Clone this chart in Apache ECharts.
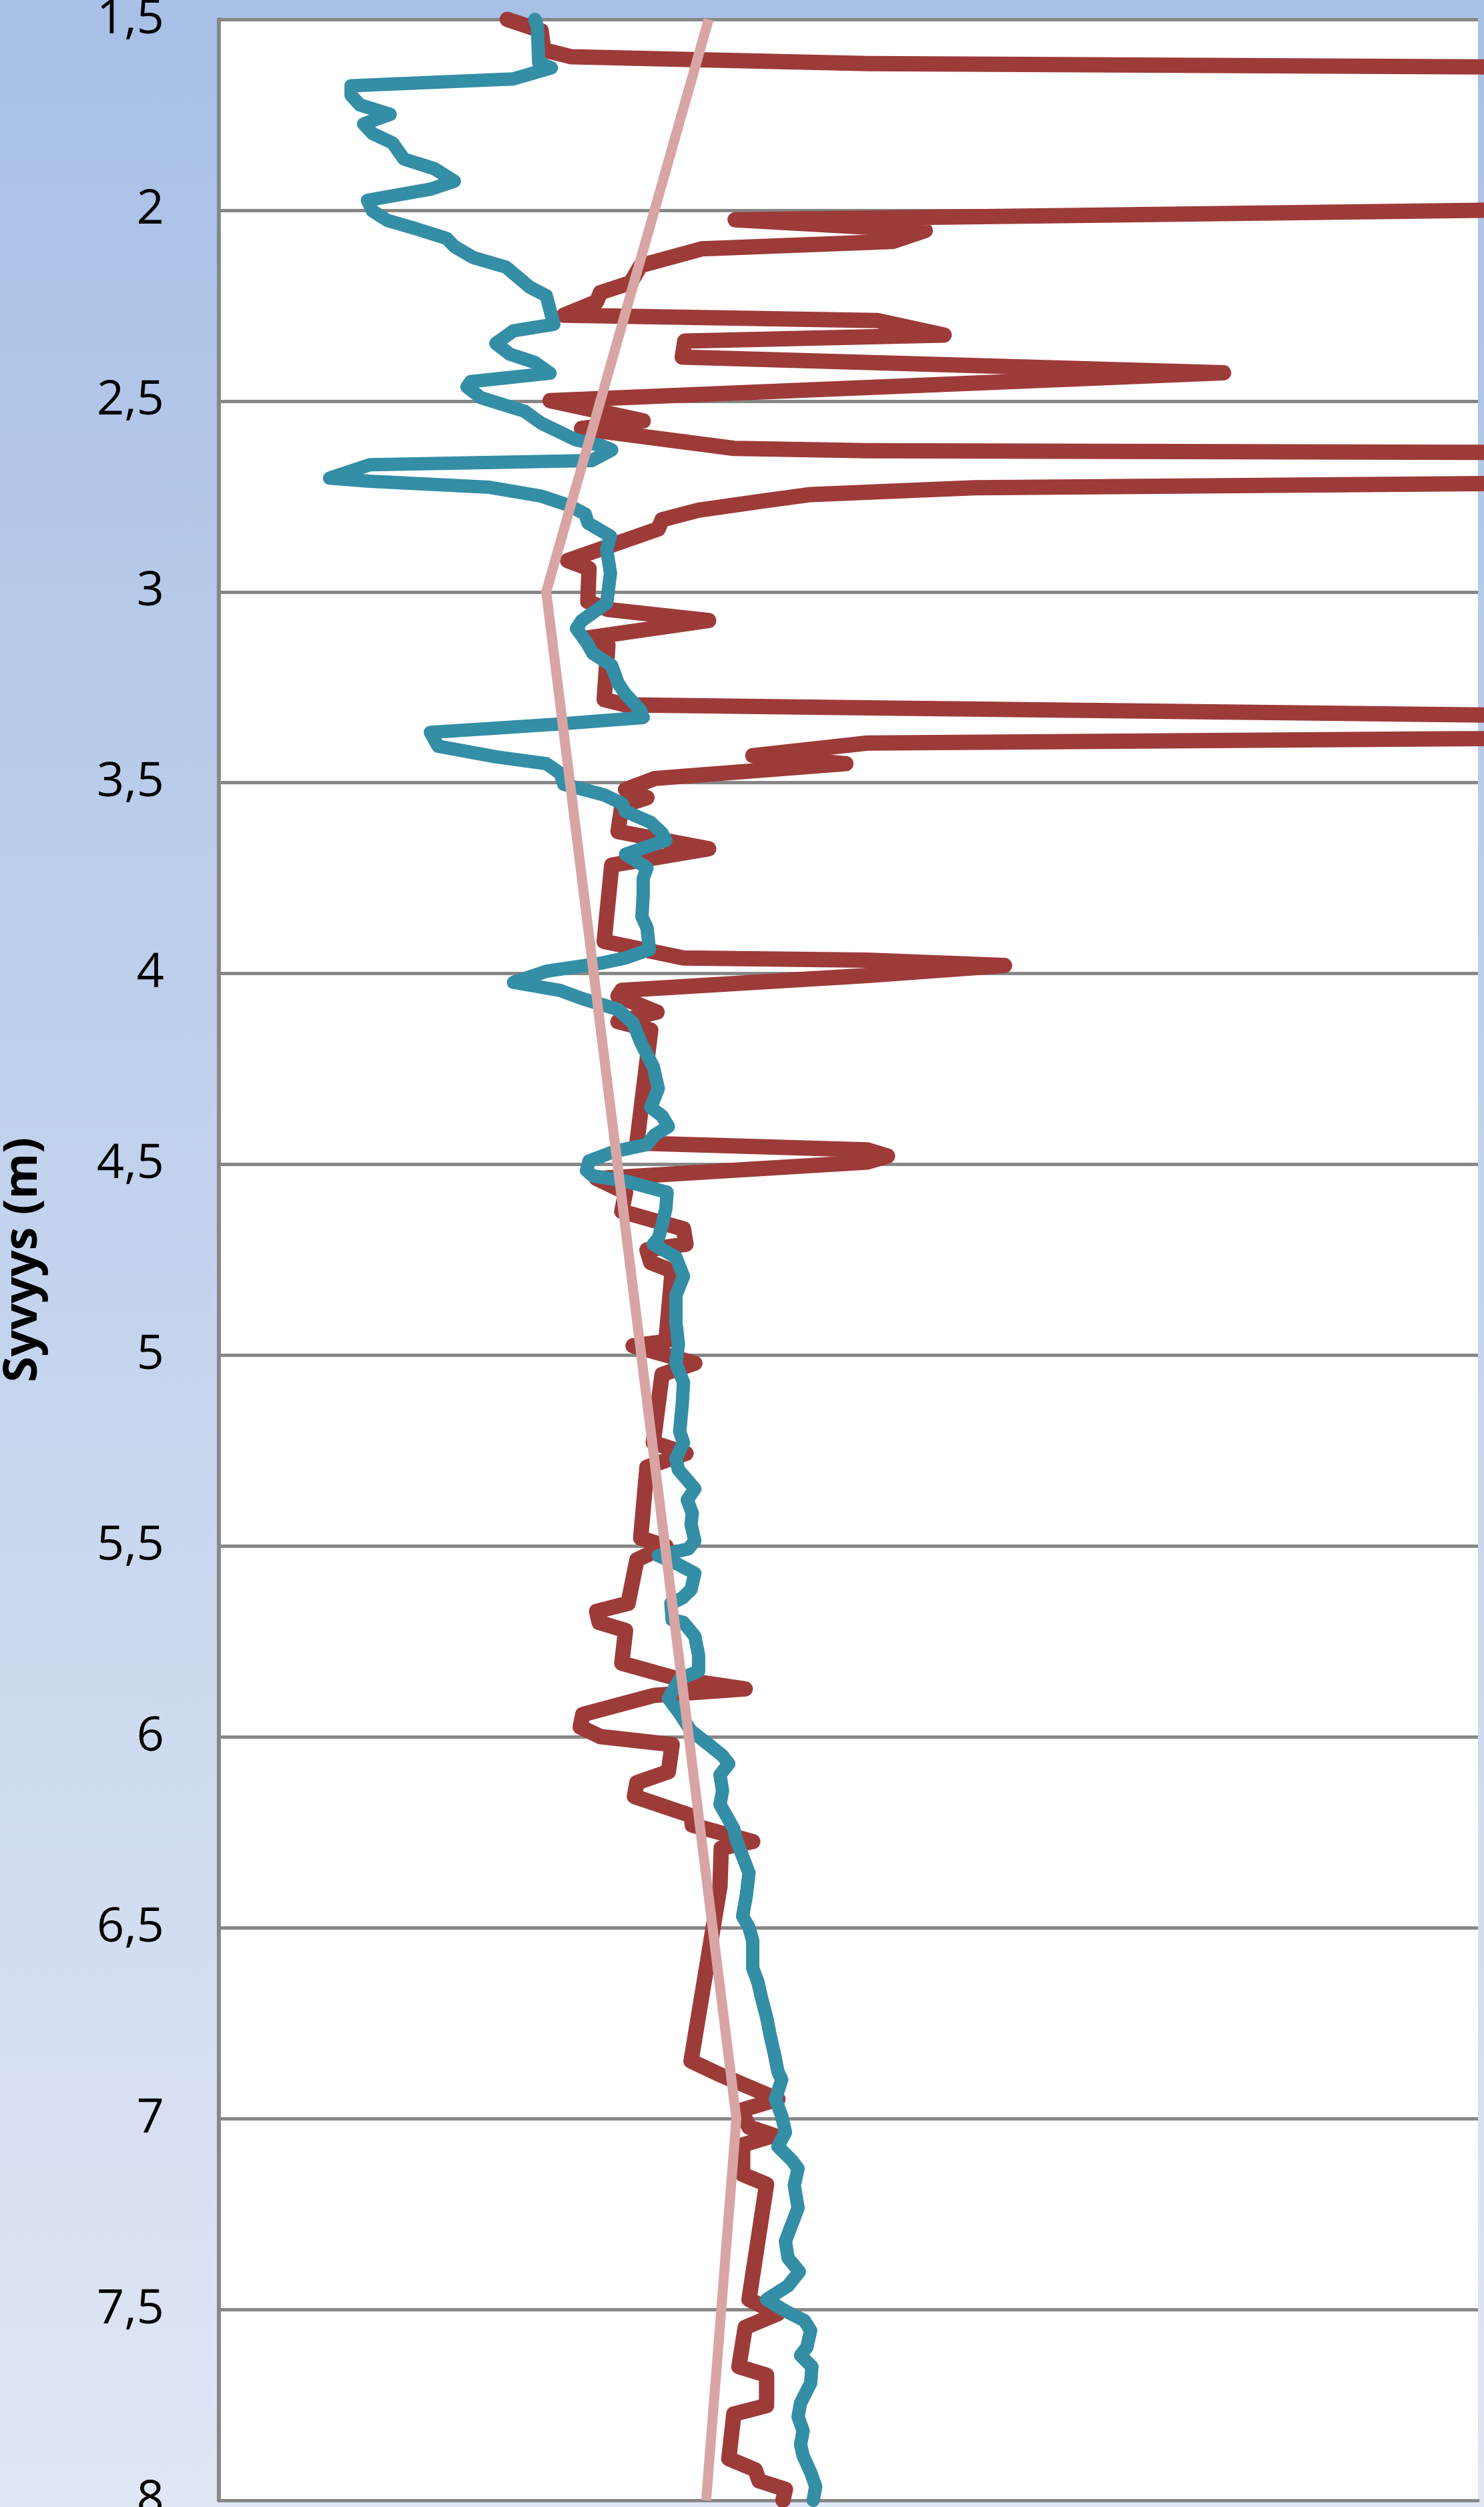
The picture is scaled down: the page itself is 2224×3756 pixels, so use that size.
<!DOCTYPE html>
<html>
<head>
<meta charset="utf-8">
<script src="https://cdn.jsdelivr.net/npm/echarts@6/dist/echarts.min.js"></script>
<style>
html,body{margin:0;padding:0;background:#fff;}
#chart{width:2224px;height:3756px;}
</style>
</head>
<body>
<div id="chart"></div>
<script>
// Depth axis tick labels (Finnish decimal comma)
const depthTicks = ['1,5','2','2,5','3','3,5','4','4,5','5','5,5','6','6,5','7','7,5','8'];

// Pink trend line: [value, depth]
const trendLine = [[38.9,1.5],[26.0,3.0],[41.1,7.0],[38.7,8.0]];

// Teal series: [value, depth]
const tealLine = [
[25.1,1.5],[25.3,1.52],[25.4,1.613],[26.4,1.627],[23.4,1.656],[10.5,1.674],[10.5,1.699],[11.2,1.724],
[13.6,1.749],[11.5,1.774],[12.2,1.799],[13.8,1.824],[14.7,1.866],[17.1,1.891],[18.7,1.924],[16.8,1.945],
[11.8,1.974],[12.2,2.002],[13.4,2.027],[15.7,2.049],[18.1,2.074],[18.7,2.095],[20.2,2.124],[22.8,2.149],
[24.7,2.202],[26.0,2.224],[26.6,2.299],[23.4,2.316],[22.0,2.349],[23.1,2.377],[25.1,2.399],[26.3,2.427],
[20.0,2.449],[19.7,2.463],[20.8,2.491],[24.3,2.527],[25.6,2.558],[28.3,2.601],[30.4,2.617],[31.2,2.628],
[29.6,2.656],[12.0,2.667],[8.8,2.702],[12.0,2.71],[21.5,2.726],[25.6,2.749],[27.7,2.772],[29.1,2.796],
[29.3,2.819],[31.1,2.854],[30.8,2.889],[31.1,2.951],[30.8,3.029],[28.8,3.076],[28.4,3.096],[29.2,3.132],
[29.7,3.161],[31.2,3.193],[31.7,3.239],[32.3,3.268],[33.5,3.311],[33.7,3.329],[27.1,3.346],[16.8,3.368],
[17.4,3.404],[22.0,3.432],[26.0,3.45],[27.1,3.475],[27.4,3.504],[30.6,3.532],[32.0,3.554],[32.3,3.575],
[34.3,3.604],[35.2,3.632],[35.5,3.651],[32.3,3.687],[34.0,3.723],[33.7,3.751],[33.7,3.794],[33.6,3.851],
[34.0,3.88],[34.2,3.937],[32.3,3.959],[30.3,3.973],[26.0,3.994],[23.4,4.023],[27.1,4.044],[28.9,4.066],
[31.7,4.094],[32.9,4.13],[33.5,4.18],[34.5,4.244],[34.9,4.301],[34.3,4.351],[35.2,4.373],[35.7,4.401],
[34.6,4.423],[34.0,4.448],[31.4,4.466],[29.4,4.491],[29.2,4.516],[29.7,4.53],[32.3,4.544],[35.6,4.573],
[35.5,4.616],[35.2,4.659],[34.9,4.694],[34.5,4.709],[36.3,4.743],[36.9,4.793],[36.3,4.843],[36.3,4.914],
[36.5,4.971],[36.3,5.021],[36.9,5.071],[36.8,5.129],[36.6,5.2],[36.9,5.229],[36.3,5.271],[36.5,5.3],
[37.8,5.35],[37.2,5.379],[37.6,5.414],[37.5,5.443],[37.8,5.486],[37.3,5.507],[34.9,5.525],[36.6,5.55],
[37.8,5.571],[37.5,5.614],[36.8,5.636],[35.9,5.65],[36.0,5.693],[36.9,5.7],[37.8,5.736],[38.1,5.786],
[38.1,5.827],[36.6,5.849],[35.7,5.899],[36.5,5.934],[37.5,5.984],[38.9,6.02],[40.0,6.049],[40.5,6.07],
[39.8,6.099],[40.0,6.141],[39.8,6.177],[40.3,6.206],[40.9,6.241],[41.1,6.27],[41.6,6.313],[42.1,6.356],
[41.9,6.413],[41.6,6.47],[42.1,6.499],[42.4,6.534],[42.4,6.606],[42.8,6.641],[43.1,6.684],[43.5,6.734],
[43.8,6.784],[44.1,6.827],[44.4,6.877],[44.7,6.898],[44.2,6.949],[44.7,6.993],[45.0,7.036],[44.4,7.073],
[45.5,7.109],[46.0,7.131],[45.7,7.175],[46.0,7.234],[45.5,7.277],[45.0,7.321],[45.2,7.365],[46.1,7.401],
[45.2,7.438],[43.5,7.474],[45.0,7.504],[46.5,7.529],[47.0,7.555],[46.7,7.599],[46.2,7.62],[47.1,7.65],
[47.0,7.693],[46.2,7.745],[46.0,7.781],[46.4,7.818],[46.2,7.854],[46.4,7.883],[47.0,7.927],[47.4,7.964],
[47.2,8.0]
];

// Dark red series: [value, depth]; values of 160 lie beyond the visible range
const redLine = [
[22.9,1.5],[25.6,1.53],[25.8,1.58],[28.0,1.598],[38.1,1.606],[51.5,1.616],[160,1.635],
[160,1.975],[41.0,2.025],[56.1,2.053],[53.5,2.082],[38.4,2.101],[33.5,2.145],[32.7,2.19],
[30.3,2.216],[30.0,2.24],[27.4,2.275],[52.3,2.289],[57.6,2.327],[37.0,2.343],[36.8,2.385],
[79.8,2.426],[26.3,2.499],[33.7,2.552],[28.8,2.572],[40.9,2.624],[51.5,2.63],[160,2.64],
[160,2.70],[60.0,2.727],[47.0,2.745],[43.2,2.762],[38.1,2.786],[35.2,2.811],[34.9,2.835],
[27.7,2.918],[29.4,2.939],[29.3,3.025],[30.9,3.046],[38.9,3.075],[29.4,3.12],[30.9,3.139],
[30.6,3.282],[32.3,3.296],[51.5,3.304],[160,3.345],
[160,3.37],[51.5,3.396],[42.4,3.429],[49.8,3.45],[34.6,3.489],[32.3,3.518],[34.0,3.539],
[32.0,3.561],[31.7,3.628],[38.9,3.673],[31.2,3.716],[30.6,3.916],[36.9,3.959],[51.5,3.965],
[62.4,3.979],[51.5,4.005],[32.0,4.044],[31.7,4.059],[34.8,4.101],[31.7,4.126],[34.3,4.148],
[33.2,4.444],[51.5,4.462],[53.1,4.478],[51.5,4.494],[30.0,4.537],[32.3,4.573],[32.0,4.623],
[36.9,4.669],[37.1,4.709],[34.0,4.724],[34.3,4.757],[36.0,4.779],[35.5,4.964],[32.9,4.975],
[37.8,5.021],[35.2,5.05],[34.5,5.229],[37.1,5.257],[34.0,5.293],[33.5,5.479],[35.5,5.5],
[33.2,5.536],[32.5,5.65],[30.0,5.671],[30.2,5.7],[32.3,5.721],[32.0,5.807],[36.6,5.849],
[41.8,5.874],[34.6,5.891],[28.9,5.941],[28.7,5.974],[30.3,5.999],[36.0,6.02],[35.7,6.091],
[33.2,6.12],[33.0,6.156],[37.5,6.206],[37.6,6.231],[42.4,6.274],[39.9,6.291],[39.8,6.391],
[37.5,6.849],[39.8,6.885],[44.4,6.949],[41.5,6.978],[42.1,7.022],[44.1,7.044],[41.6,7.069],
[41.6,7.146],[43.5,7.172],[42.1,7.474],[44.4,7.511],[41.8,7.547],[41.3,7.65],[43.5,7.672],
[43.5,7.752],[40.9,7.774],[40.5,7.891],[42.6,7.92],[42.9,7.949],[45.0,7.971],[44.8,8.0]
];

const chart = echarts.init(document.getElementById('chart'), null, {renderer:'canvas'});
const gridColor = '#878787';
chart.setOption({
  animation: false,
  backgroundColor: {
    type: 'linear', x: 0, y: 0, x2: 0, y2: 1,
    colorStops: [{offset: 0, color: '#a8c0e6'}, {offset: 1, color: '#dfe6f4'}]
  },
  grid: {left: 328, top: 29, right: 9, bottom: 10, containLabel: false, outerBoundsMode: 'none',
         show: true, backgroundColor: '#ffffff', borderWidth: 0},
  xAxis: {
    type: 'value', min: 0, max: 100, position: 'bottom',
    axisLine: {show: true, lineStyle: {color: gridColor, width: 5}},
    axisTick: {show: false}, axisLabel: {show: false}, splitLine: {show: false}
  },
  yAxis: {
    type: 'value', inverse: true, min: 1.5, max: 8, interval: 0.5,
    axisLine: {show: true, lineStyle: {color: gridColor, width: 6}},
    axisTick: {show: false},
    splitLine: {show: true, lineStyle: {color: gridColor, width: 5}},
    axisLabel: {
      formatter: function (v) { return depthTicks[Math.round((v - 1.5) / 0.5)]; },
      fontSize: 72, fontFamily: 'Open Sans', color: '#000000', margin: 82
    },
    name: 'Syvyys (m)', nameLocation: 'middle', nameRotate: 90, nameGap: 258,
    nameTextStyle: {fontSize: 70, fontWeight: 'bold', fontFamily: 'Open Sans', color: '#000000'}
  },
  series: [
    {type: 'line', data: redLine, showSymbol: false, symbol: 'none', clip: false, z: 2,
     lineStyle: {color: '#9d3b39', width: 23, cap: 'round', join: 'round'}},
    {type: 'line', data: tealLine, showSymbol: false, symbol: 'none', clip: false, z: 3,
     lineStyle: {color: '#348ea5', width: 20, cap: 'round', join: 'round'}},
    {type: 'line', data: trendLine, showSymbol: false, symbol: 'none', clip: false, z: 4,
     lineStyle: {color: '#d8a5a4', width: 15, cap: 'butt', join: 'round'}}
  ]
});
</script>
</body>
</html>
